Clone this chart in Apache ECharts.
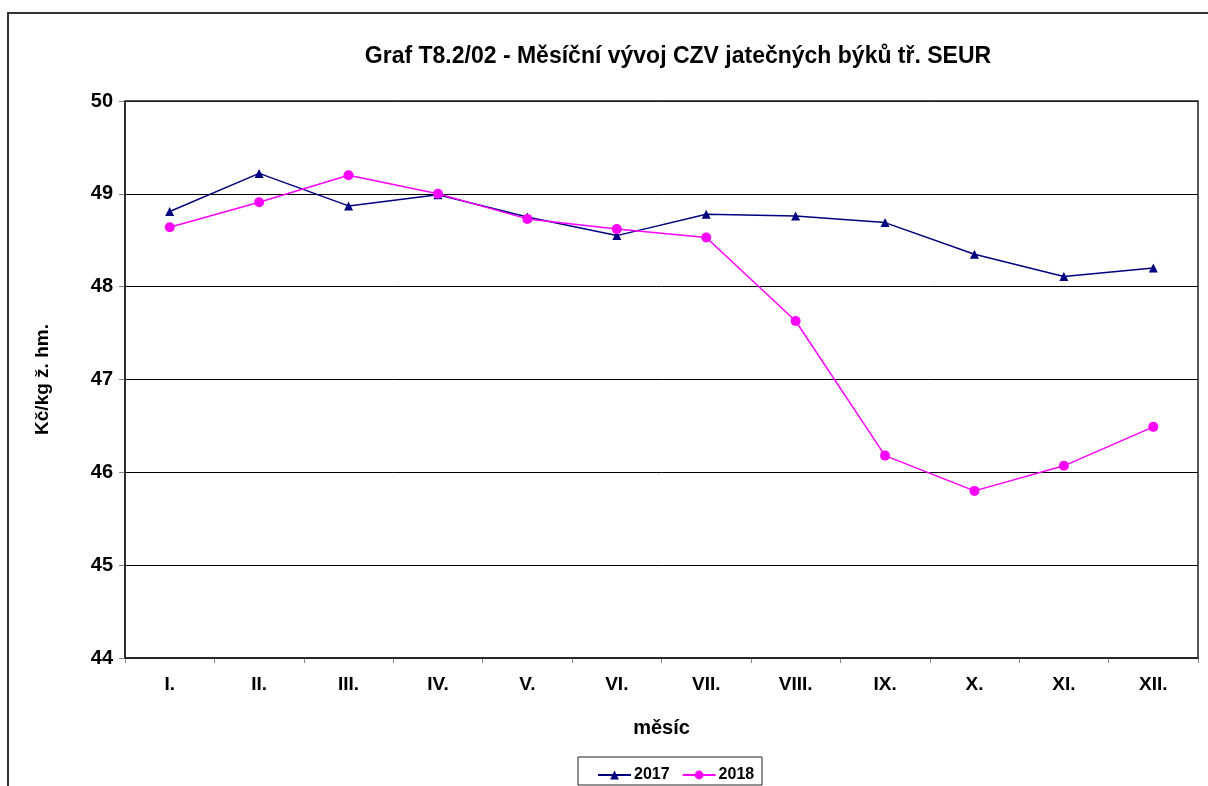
<!DOCTYPE html>
<html><head><meta charset="utf-8">
<script src="https://cdn.jsdelivr.net/npm/echarts@6/dist/echarts.min.js"></script>
<style>html,body{margin:0;padding:0;background:#fff}#c{width:1208px;height:786px}</style>
</head><body><div id="c"></div>
<script>
const categories = ['I.','II.','III.','IV.','V.','VI.','VII.','VIII.','IX.','X.','XI.','XII.'];
const values2017 = [48.81,49.22,48.87,48.99,48.75,48.55,48.78,48.76,48.69,48.35,48.11,48.20];
const values2018 = [48.64,48.91,49.20,49.00,48.73,48.62,48.53,47.63,46.18,45.80,46.07,46.49];
const seriesNames = ['2017','2018'];
const titleText = 'Graf T8.2/02 - Měsíční vývoj CZV jatečných býků tř. SEUR';
const yName = 'Kč/kg ž. hm.';
const xName = 'měsíc';

const F = 'Liberation Sans, Arial, sans-serif';
const chart = echarts.init(document.getElementById('c'));
chart.setOption({
  animation:false,
  backgroundColor:'#fff',
  graphic:[
    {type:'rect', shape:{x:8,y:13,width:1260,height:820}, style:{fill:'none',stroke:'#333',lineWidth:2}, z:-1},
    {type:'rect', shape:{x:125,y:101,width:1073,height:557}, style:{fill:'none',stroke:'#222',lineWidth:1.5}, z:10},
    {type:'rect', shape:{x:578,y:757,width:184,height:28}, style:{fill:'#fff',stroke:'#222',lineWidth:1}, z:0}
  ],
  title:{text:titleText,left:673,top:40,textAlign:'center',
    textStyle:{fontFamily:F,fontSize:23,fontWeight:'bold',color:'#000'}},
  grid:{left:125,right:10,top:101,bottom:128,containLabel:false},
  legend:{data:seriesNames,left:592,top:762,itemWidth:33,itemHeight:11,itemGap:12,
    textStyle:{fontFamily:F,fontSize:16,fontWeight:'bold',color:'#000',padding:[0,0,0,-2]}, z:5},
  xAxis:{type:'category',data:categories,boundaryGap:true,
    name:xName,nameLocation:'middle',nameGap:60,
    nameTextStyle:{fontFamily:F,fontSize:20,fontWeight:'bold',color:'#000'},
    axisLine:{lineStyle:{color:'#222',width:1.5}},
    axisTick:{show:true,length:5,lineStyle:{color:'#888'}},
    axisLabel:{fontFamily:F,fontSize:19,fontWeight:'bold',color:'#000',margin:17}},
  yAxis:{type:'value',min:44,max:50,interval:1,
    name:yName,nameLocation:'middle',nameGap:73,nameRotate:90,
    nameTextStyle:{fontFamily:F,fontSize:19,fontWeight:'bold',color:'#000'},
    axisLine:{show:true,lineStyle:{color:'#222',width:1.5}},
    axisTick:{show:true,length:6,lineStyle:{color:'#888'}},
    axisLabel:{fontFamily:F,fontSize:20,fontWeight:'bold',color:'#000',margin:12},
    splitLine:{lineStyle:{color:'#000',width:1}}},
  series:[
    {name:seriesNames[0],type:'line',data:values2017,symbol:'triangle',symbolSize:9,
     lineStyle:{color:'#000080',width:1.5},itemStyle:{color:'#000080'}},
    {name:seriesNames[1],type:'line',data:values2018,symbol:'circle',symbolSize:10,
     lineStyle:{color:'#FF00FF',width:1.5},itemStyle:{color:'#FF00FF'}}
  ]
});
</script></body></html>
